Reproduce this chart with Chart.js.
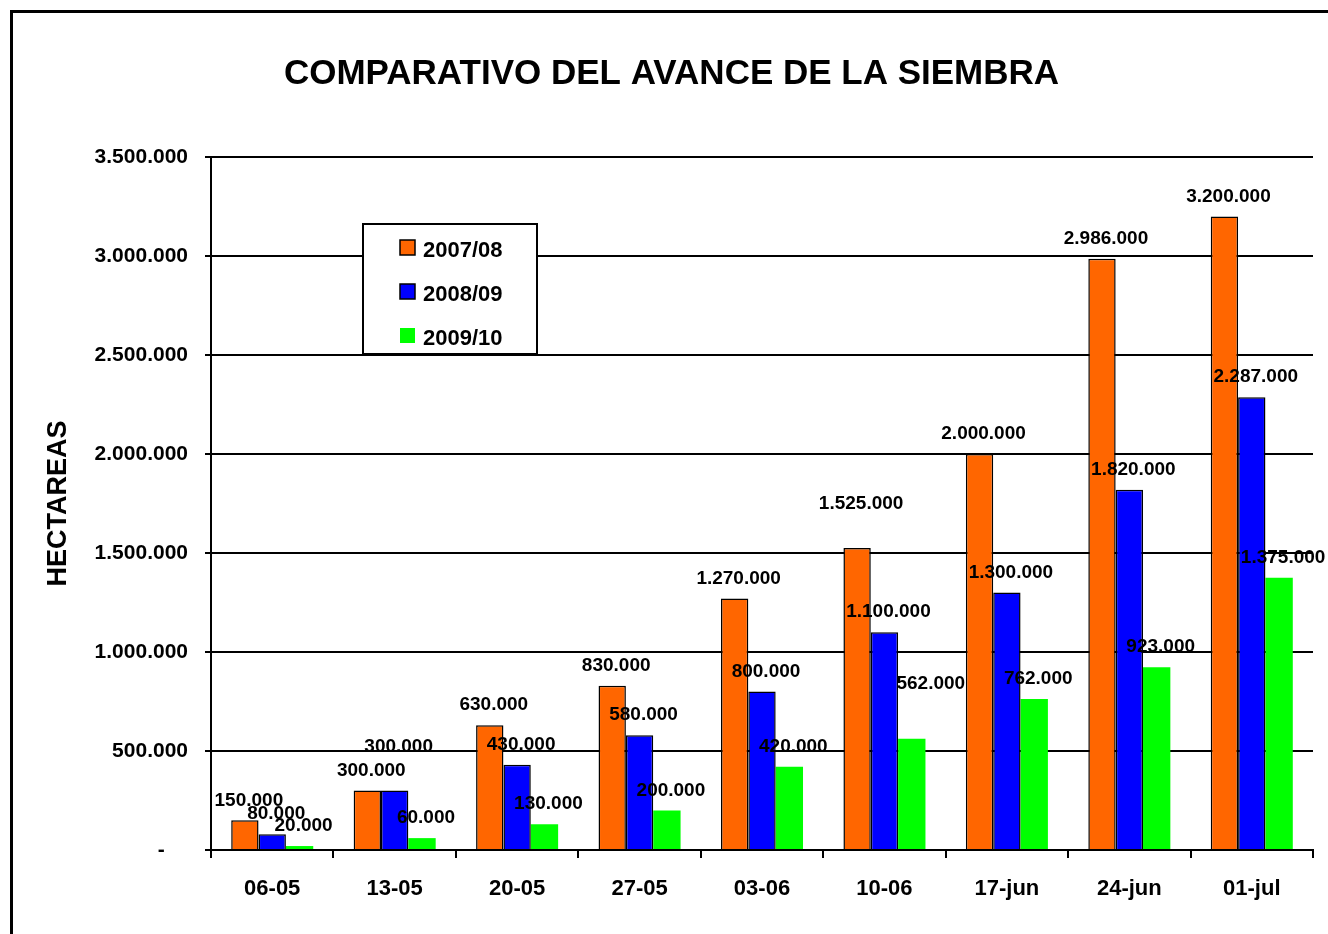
<!DOCTYPE html>
<html>
<head>
<meta charset="utf-8">
<script src="https://cdn.jsdelivr.net/npm/chart.js@4/dist/chart.umd.min.js"></script>
<style>
body { margin: 0; background: #fff; }
canvas { display: block; }
</style>
</head>
<body>
<canvas id="siembraChart" width="1328" height="934"></canvas>
<script>
var fechas = ["06-05", "13-05", "20-05", "27-05", "03-06", "10-06", "17-jun", "24-jun", "01-jul"];
var campanas = ["2007/08", "2008/09", "2009/10"];
var siembra0708 = [150000, 300000, 630000, 830000, 1270000, 1525000, 2000000, 2986000, 3200000];
var siembra0809 = [80000, 300000, 430000, 580000, 800000, 1100000, 1300000, 1820000, 2287000];
var siembra0910 = [20000, 60000, 130000, 200000, 420000, 562000, 762000, 923000, 1375000];
var yMax = 3500000;
var yStep = 500000;

var fuente = "'Liberation Sans', Arial, sans-serif";

function puntos(v)
{
	if (v === 0) return "-    ";
	return String(v).replace(/\B(?=(\d{3})+(?!\d))/g, ".");
}

// marco negro (solo borde izquierdo y superior se ven)
var marco = {
	id: "marco",
	beforeDraw: function(chart) {
		var ctx = chart.ctx;
		ctx.save();
		ctx.fillStyle = "#fff";
		ctx.fillRect(0, 0, chart.width, chart.height);
		ctx.fillStyle = "#000";
		ctx.fillRect(10, 10, 3, chart.height - 10);
		ctx.fillRect(10, 10, chart.width - 10, 3);
		ctx.restore();
	}
};

// etiquetas de valor sobre las barras, con algunos desplazamientos como en el original
var etiquetas = {
	id: "etiquetas",
	afterDatasetsDraw: function(chart) {
		var ctx = chart.ctx;
		var ajustes = { "1-1": [0, -24], "0-5": [0, -24], "2-5": [15, -35] };
		ctx.save();
		ctx.font = "bold 19px " + fuente;
		ctx.fillStyle = "#000";
		ctx.textAlign = "center";
		ctx.textBaseline = "middle";
		chart.data.datasets.forEach(function(ds, i) {
			chart.getDatasetMeta(i).data.forEach(function(bar, j) {
				var a = ajustes[i + "-" + j] || [0, 0];
				ctx.fillText(puntos(ds.data[j]), bar.x + 4 + a[0], bar.y - 20 + a[1]);
			});
		});
		ctx.restore();
	}
};

// leyenda en recuadro dentro del area del grafico
var leyenda = {
	id: "leyenda",
	afterDraw: function(chart) {
		var ctx = chart.ctx;
		var ca = chart.chartArea;
		var x = ca.left + 152, y = ca.top + 67, w = 174, h = 130;
		ctx.save();
		ctx.fillStyle = "#fff";
		ctx.fillRect(x, y, w, h);
		ctx.strokeStyle = "#000";
		ctx.lineWidth = 2;
		ctx.strokeRect(x, y, w, h);
		ctx.font = "bold 22px " + fuente;
		ctx.textBaseline = "middle";
		chart.data.datasets.forEach(function(ds, i) {
			var cy = y + 23 + i * 44;
			ctx.fillStyle = ds.backgroundColor;
			ctx.fillRect(x + 37, cy - 7, 15, 15);
			if (ds.borderWidth > 0) {
				ctx.lineWidth = 1.5;
				ctx.strokeRect(x + 37, cy - 7, 15, 15);
			}
			ctx.fillStyle = "#000";
			ctx.fillText(ds.label, x + 60, cy + 4);
		});
		ctx.restore();
	}
};

Chart.defaults.font.family = fuente;
Chart.defaults.font.weight = "bold";
Chart.defaults.color = "#000";

var siembraChart = new Chart("siembraChart", {
	type: "bar",
	data: {
		labels: fechas,
		datasets: [{
			label: campanas[0],
			data: siembra0708,
			backgroundColor: "#FF6600",
			borderColor: "#000",
			borderWidth: 1.5
		}, {
			label: campanas[1],
			data: siembra0809,
			backgroundColor: "#0000FF",
			borderColor: "#000",
			borderWidth: 1.5
		}, {
			label: campanas[2],
			data: siembra0910,
			backgroundColor: "#00FF00",
			borderWidth: 0
		}]
	},
	options: {
		responsive: false,
		animation: false,
		categoryPercentage: 0.67,
		barPercentage: 1,
		layout: { padding: { left: 30, right: 15, top: 0, bottom: 0 } },
		plugins: {
			legend: { display: false },
			tooltip: { enabled: false },
			title: {
				display: true,
				text: "COMPARATIVO DEL AVANCE DE LA SIEMBRA",
				color: "#000",
				font: { size: 35, weight: "bold" },
				padding: { top: 53, bottom: 62 }
			}
		},
		scales: {
			x: {
				grid: { drawOnChartArea: false, color: "#000", lineWidth: 2, tickLength: 8 },
				border: { color: "#000", width: 2 },
				ticks: { font: { size: 22, weight: "bold" }, padding: 18, maxRotation: 0 },
				afterFit: function(s) { s.height = 84; }
			},
			y: {
				min: 0,
				max: yMax,
				grid: { color: "#000", lineWidth: 2, tickLength: 6 },
				border: { color: "#000", width: 2 },
				ticks: {
					stepSize: yStep,
					font: { size: 21, weight: "bold" },
					padding: 17,
					callback: function(v) { return puntos(v); }
				},
				title: {
					display: true,
					text: "HECTAREAS",
					color: "#000",
					font: { size: 27, weight: "bold" },
					padding: { top: 12, bottom: 0 }
				},
				afterFit: function(s) { s.width = 181; }
			}
		}
	},
	plugins: [marco, etiquetas, leyenda]
});
</script>
</body>
</html>
